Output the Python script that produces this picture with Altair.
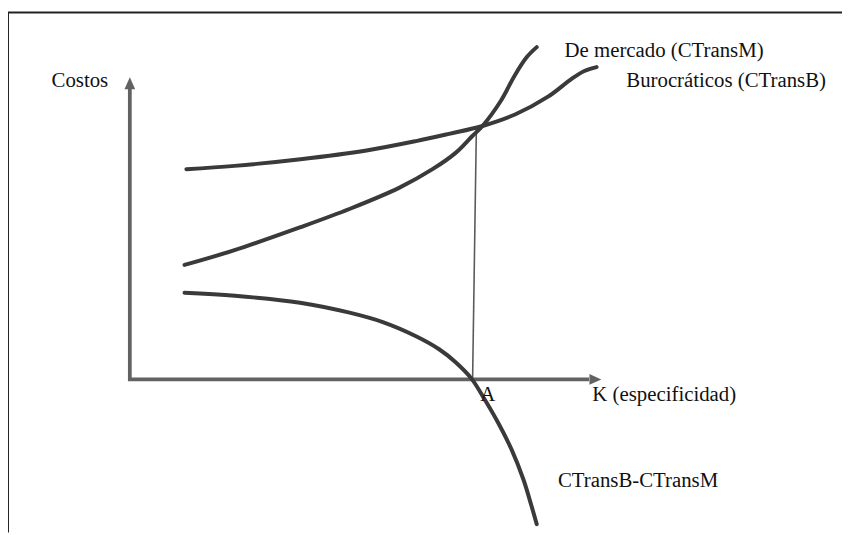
import altair as alt
import pandas as pd

# --- data (K = especificidad, C = costos; axis arrows run 0..10) ---
k_burocraticos = [1.20, 2.22, 3.62, 5.02, 6.07, 6.77, 7.48, 8.17, 8.87, 9.37, 9.64, 9.90]
c_burocraticos = [6.96, 7.07, 7.29, 7.58, 7.89, 8.13, 8.39, 8.77, 9.36, 9.95, 10.21, 10.34]

k_mercado = [1.16, 2.22, 3.62, 4.67, 5.72, 6.42, 6.91, 7.26, 7.48, 7.86, 8.17, 8.42, 8.63]
c_mercado = [3.79, 4.28, 5.04, 5.65, 6.35, 6.96, 7.50, 8.05, 8.39, 9.20, 10.08, 10.67, 11.00]

k_diferencia = [1.16, 2.23, 3.61, 4.66, 5.38, 6.07, 6.56, 6.91, 7.25, 7.54, 7.82, 8.10, 8.35, 8.52, 8.63]
c_diferencia = [2.87, 2.77, 2.54, 2.21, 1.89, 1.43, 1.00, 0.57, 0.02, -0.70, -1.46, -2.33, -3.32, -4.19, -4.79]

# vertical guide at point A
k_guia = [7.35, 7.27]
c_guia = [8.31, 0.0]

# axis extents
eje_k_max = 10.0
eje_c_max = 10.0

label_text = ["Costos", "De mercado (CTransM)", "Burocráticos (CTransB)",
              "K (especificidad)", "A", "CTransB-CTransM"]
label_k = [-1.66, 9.22, 10.53, 9.81, 7.43, 9.08]
label_c = [9.69, 10.67, 9.69, -0.70, -0.70, -3.56]

# --- build tables ---
rows = []
for name, ks, cs in [("CTransB", k_burocraticos, c_burocraticos),
                     ("CTransM", k_mercado, c_mercado),
                     ("CTransB-CTransM", k_diferencia, c_diferencia)]:
    for i, (k, c) in enumerate(zip(ks, cs)):
        rows.append({"serie": name, "orden": i, "k": k, "c": c})
curves = pd.DataFrame(rows)
labels = pd.DataFrame({"texto": label_text, "k": label_k, "c": label_c})

W, H = 842, 527
xs = alt.Scale(domain=[-2.584, 15.105], nice=False, zero=False)
ys = alt.Scale(domain=[-5.066, 12.213], nice=False, zero=False)
AX = "#626262"
INK = "#3a3a3a"
FONT = "'Liberation Serif', 'DejaVu Serif', 'Times New Roman', serif"

base = alt.Chart(curves)

lines = base.mark_line(color=INK, strokeWidth=4, interpolate="catmull-rom",
                       strokeCap="round").encode(
    x=alt.X("k:Q", scale=xs, axis=None),
    y=alt.Y("c:Q", scale=ys, axis=None),
    detail="serie:N",
    order="orden:Q",
)

guia = alt.Chart(pd.DataFrame({"k": [k_guia[0]], "c": [c_guia[0]],
                               "k2": [k_guia[1]], "c2": [c_guia[1]]})).mark_rule(
    color="#5a5a5a", strokeWidth=1.6).encode(
    x=alt.X("k:Q", scale=xs, axis=None), y=alt.Y("c:Q", scale=ys, axis=None),
    x2="k2:Q", y2="c2:Q")

ejes_df = pd.DataFrame({
    "k": [0.0, -0.04],
    "c": [0.0, 0.0],
    "k2": [0.0, eje_k_max - 0.26],
    "c2": [eje_c_max - 0.36, 0.0],
})
ejes = alt.Chart(ejes_df).mark_rule(color=AX, strokeWidth=3.8, strokeCap="butt").encode(
    x=alt.X("k:Q", scale=xs, axis=None), y=alt.Y("c:Q", scale=ys, axis=None),
    x2="k2:Q", y2="c2:Q")

flecha_y = alt.Chart(pd.DataFrame({"k": [0.0], "c": [eje_c_max]})).mark_point(
    shape="M0,0L0.9,2L-0.9,2Z", filled=True, fill=AX, opacity=1, size=144,
    strokeWidth=0).encode(
    x=alt.X("k:Q", scale=xs, axis=None), y=alt.Y("c:Q", scale=ys, axis=None))

flecha_x = alt.Chart(pd.DataFrame({"k": [eje_k_max], "c": [0.0]})).mark_point(
    shape="M0,0L-2,-0.9L-2,0.9Z", filled=True, fill=AX, opacity=1, size=144,
    strokeWidth=0).encode(
    x=alt.X("k:Q", scale=xs, axis=None), y=alt.Y("c:Q", scale=ys, axis=None))

textos = alt.Chart(labels).mark_text(
    align="left", baseline="alphabetic", font=FONT, fontSize=21,
    color="#111111").encode(
    x=alt.X("k:Q", scale=xs, axis=None), y=alt.Y("c:Q", scale=ys, axis=None),
    text="texto:N")

marco_top = alt.Chart(pd.DataFrame({"a": [0]})).mark_rule(
    color="#222222", strokeWidth=2).encode(
    x=alt.value(0), x2=alt.value(W), y=alt.value(2))
marco_izq = alt.Chart(pd.DataFrame({"a": [0]})).mark_rule(
    color="#222222", strokeWidth=2).encode(
    x=alt.value(0), y=alt.value(2), y2=alt.value(H))

chart = alt.layer(marco_top, marco_izq, ejes, flecha_y, flecha_x, guia, lines, textos).properties(
    width=W, height=H, padding=0, autosize="none", background="white"
).configure_view(stroke=None)

chart.save("out.html", embed_options={"renderer": "svg", "actions": False})
